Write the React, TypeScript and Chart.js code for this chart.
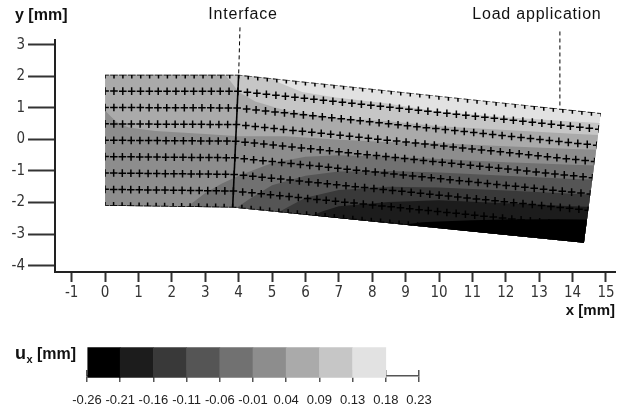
import React, { useEffect, useRef } from 'react';
import { Chart, registerables } from 'chart.js';

Chart.register(...registerables);

// ---------- data (mm) ----------
// beam outline after deformation
const beamTop: [number, number][] = [[0, 2.05], [4.0, 2.05], [14.85, 0.84]];
const beamBottom: [number, number][] = [[0, -2.1], [3.82, -2.16], [14.34, -3.27]];
// interface between the two materials and leader lines of the annotations
const interfaceLine: [number, number][] = [[4.0, 2.05], [3.82, -2.16]];
const interfaceLeader: [number, number][] = [[4.04, 3.55], [4.0, 2.05]];
const loadLeader: [number, number][] = [[13.62, 3.42], [13.62, 0.98]];
// measurement grid: node counts (rows, columns of the left part, columns of the right part)
const gridRows = 9;
const gridColsLeft = 16;
const gridColsRight = 38;

// iso-lines of u_x (boundaries between the legend classes)
const isoM021: [number, number][] = [[-1, -4], [8, -3.2], [8.8, -2.72], [9.5, -2.62], [10, -2.6], [11, -2.56], [12, -2.54], [13.5, -2.53], [15.5, -2.55]];
const isoM016: [number, number][] = [[-1, -4], [5.5, -3], [6.0, -2.5], [6.5, -2.28], [7, -2.12], [8.5, -1.98], [10, -1.93], [12, -2.02], [14, -2.12], [15.5, -2.18]];
const isoM011: [number, number][] = [[-1, -4], [4.5, -3], [5.2, -2.3], [6, -1.85], [7, -1.6], [8.5, -1.5], [10, -1.52], [12, -1.62], [14, -1.72], [15.5, -1.78]];
const isoM006: [number, number][] = [[-1, -3], [3.5, -2.6], [3.9, -2.2], [4.3, -1.9], [5, -1.45], [6, -1.15], [7, -1.02], [8.5, -1.0], [10, -1.05], [12, -1.15], [14, -1.25], [15.5, -1.3]];
const isoM001: [number, number][] = [[-1, -3], [2.2, -2.6], [2.5, -2.1], [3.0, -1.7], [3.5, -1.4], [4.0, -1.15], [5, -0.75], [6, -0.55], [7, -0.5], [8.5, -0.55], [10, -0.62], [12, -0.72], [14, -0.8], [15.5, -0.85]];
const isoP004: [number, number][] = [[-1, 1.0], [0, 0.92], [0.15, 0.75], [0.35, 0.55], [0.7, 0.38], [1.5, 0.27], [3, 0.17], [4, 0.1], [5.4, 0.1], [6.9, 0.0], [8.4, -0.08], [10, -0.12], [12, -0.22], [14, -0.3], [15.5, -0.36]];
const isoP009: [number, number][] = [[-1, 3.5], [3.3, 3.0], [3.55, 2.1], [3.75, 1.85], [4.0, 1.5], [4.5, 1.2], [5.4, 0.92], [6.9, 0.69], [8.4, 0.58], [10, 0.42], [12, 0.3], [14, 0.18], [15.5, 0.1]];
const isoP013: [number, number][] = [[-1, 3.5], [4.5, 3.0], [4.85, 2.2], [5.2, 1.8], [5.9, 1.5], [6.9, 1.33], [8.4, 1.15], [10, 0.88], [12, 0.7], [13.5, 0.6], [15.5, 0.48]];
const isoLines = [isoM021, isoM016, isoM011, isoM006, isoM001, isoP004, isoP009, isoP013];

// legend
const legendTicks = ['-0.26', '-0.21', '-0.16', '-0.11', '-0.06', '-0.01', '0.04', '0.09', '0.13', '0.18', '0.23'];
const legendColors = ['#000000', '#1c1c1c', '#393939', '#555555', '#717171', '#8d8d8d', '#aaaaaa', '#c6c6c6', '#e2e2e2'];

// ---------- helpers ----------
const lerp = (a: number, b: number, t: number) => a + (b - a) * t;
const lerpP = (a: [number, number], b: [number, number], t: number): [number, number] => [lerp(a[0], b[0], t), lerp(a[1], b[1], t)];

function buildGridNodes() {
  const nodes: { x: number; y: number }[] = [];
  for (let r = 0; r < gridRows; r++) {
    const f = r / (gridRows - 1);
    for (let c = 0; c < gridColsLeft; c++) {
      const u = c / (gridColsLeft - 1);
      const p = lerpP(lerpP(beamTop[0], beamTop[1], u), lerpP(beamBottom[0], beamBottom[1], u), f);
      nodes.push({ x: p[0], y: p[1] });
    }
    for (let c = 1; c <= gridColsRight; c++) {
      const v = c / gridColsRight;
      const p = lerpP(lerpP(beamTop[1], beamTop[2], v), lerpP(beamBottom[1], beamBottom[2], v), f);
      nodes.push({ x: p[0], y: p[1] });
    }
  }
  return nodes;
}

const toXY = (pts: [number, number][]) => pts.map(([x, y]) => ({ x, y }));

const SANS = '"Liberation Sans", Arial, Helvetica, sans-serif';
const TICKFONT = '"Liberation Sans Narrow", "DejaVu Sans Condensed", "Liberation Sans", sans-serif';

function traceBeam(ctx: CanvasRenderingContext2D, xs: any, ys: any) {
  const outline = [...beamTop, ...beamBottom.slice().reverse()];
  ctx.beginPath();
  outline.forEach(([x, y], i) => {
    const X = xs.getPixelForValue(x);
    const Y = ys.getPixelForValue(y);
    if (i === 0) ctx.moveTo(X, Y);
    else ctx.lineTo(X, Y);
  });
  ctx.closePath();
}

const beamPlugin = {
  id: 'beamContours',
  beforeDatasetsDraw(chart: any) {
    const { ctx } = chart;
    const xs = chart.scales.x;
    const ys = chart.scales.y;
    ctx.save();
    traceBeam(ctx, xs, ys);
    ctx.clip();
    ctx.fillStyle = legendColors[8];
    ctx.fill();
    ctx.filter = 'blur(0.7px)';
    for (let k = isoLines.length - 1; k >= 0; k--) {
      const line = isoLines[k];
      ctx.beginPath();
      line.forEach(([x, y], i) => {
        const X = xs.getPixelForValue(x);
        const Y = ys.getPixelForValue(y);
        if (i === 0) ctx.moveTo(X, Y);
        else ctx.lineTo(X, Y);
      });
      const last = line[line.length - 1];
      const first = line[0];
      ctx.lineTo(xs.getPixelForValue(last[0]), chart.height + 60);
      ctx.lineTo(xs.getPixelForValue(first[0]), chart.height + 60);
      ctx.closePath();
      ctx.fillStyle = legendColors[k];
      ctx.fill();
    }
    ctx.restore();
  },
  beforeDatasetDraw(chart: any, args: any) {
    if (args.index <= 1) {
      const ctx = chart.ctx;
      ctx.save();
      traceBeam(ctx, chart.scales.x, chart.scales.y);
      ctx.clip();
    }
  },
  afterDatasetDraw(chart: any, args: any) {
    if (args.index <= 1) chart.ctx.restore();
  },
  afterDraw(chart: any) {
    const { ctx, chartArea } = chart;
    const xs = chart.scales.x;
    ctx.save();
    ctx.fillStyle = '#111';
    ctx.textBaseline = 'middle';
    ctx.font = `bold 16px ${SANS}`;
    ctx.textAlign = 'left';
    ctx.fillText('y [mm]', 15, 16);
    ctx.font = `bold 15px ${SANS}`;
    ctx.textAlign = 'right';
    ctx.fillText('x [mm]', chartArea.right, 311);
    ctx.font = `16px ${SANS}`;
    (ctx as any).letterSpacing = '0.8px';
    ctx.textAlign = 'center';
    ctx.fillText('Interface', xs.getPixelForValue(interfaceLeader[0][0]) + 3, 15);
    ctx.fillText('Load application', xs.getPixelForValue(loadLeader[0][0]) - 23, 15);
    ctx.restore();
  },
};

const colorbarPlugin = {
  id: 'colorbarTitle',
  afterDraw(chart: any) {
    const { ctx } = chart;
    ctx.save();
    ctx.fillStyle = '#111';
    ctx.textBaseline = 'alphabetic';
    ctx.textAlign = 'left';
    ctx.font = `bold 18px ${SANS}`;
    ctx.fillText('u', 15, 37);
    ctx.font = `bold 11px ${SANS}`;
    ctx.fillText('x', 26.5, 41);
    ctx.font = `bold 16px ${SANS}`;
    ctx.fillText('[mm]', 37, 37);
    ctx.restore();
  },
};

export default function App() {
  const mainRef = useRef<HTMLCanvasElement>(null);
  const barRef = useRef<HTMLCanvasElement>(null);

  useEffect(() => {
    document.body.style.margin = '0';
    const gridNodes = buildGridNodes();
    const main = new Chart(mainRef.current as HTMLCanvasElement, {
      type: 'scatter',
      data: {
        datasets: [
          {
            label: 'grid',
            data: gridNodes,
            pointStyle: 'cross',
            pointRadius: 3.8,
            pointBorderColor: '#000',
            pointBorderWidth: 1.5,
            showLine: false,
            clip: false,
          } as any,
          {
            label: 'interface',
            data: toXY(interfaceLine),
            showLine: true,
            borderColor: '#000',
            borderWidth: 1.6,
            pointRadius: 0,
            clip: false,
          } as any,
          {
            label: 'interfaceLeader',
            data: toXY(interfaceLeader),
            showLine: true,
            borderColor: '#000',
            borderWidth: 1,
            borderDash: [4, 3],
            pointRadius: 0,
            clip: false,
          } as any,
          {
            label: 'loadLeader',
            data: toXY(loadLeader),
            showLine: true,
            borderColor: '#000',
            borderWidth: 1,
            borderDash: [4, 3],
            pointRadius: 0,
            clip: false,
          } as any,
        ],
      },
      options: {
        animation: false,
        responsive: false,
        maintainAspectRatio: false,
        events: [],
        layout: { padding: { top: 40, right: 14, left: 0, bottom: 0 } },
        plugins: { legend: { display: false }, tooltip: { enabled: false } },
        scales: {
          x: {
            type: 'linear',
            min: -1.5,
            max: 15.27,
            afterFit: (s: any) => { s.height = 50; },
            ticks: { stepSize: 1, includeBounds: false, autoSkip: false, maxRotation: 0, padding: 2, color: '#333', font: { family: TICKFONT, size: 15 } },
            grid: { display: true, drawOnChartArea: false, drawTicks: true, tickLength: 10, tickWidth: 2, tickColor: '#333' },
            border: { display: true, color: '#222', width: 2 },
          },
          y: {
            type: 'linear',
            min: -4.2,
            max: 3.15,
            afterFit: (s: any) => { s.width = 55; },
            ticks: { stepSize: 1, includeBounds: false, autoSkip: false, padding: 3, color: '#333', font: { family: TICKFONT, size: 15 } },
            grid: { display: true, drawOnChartArea: false, drawTicks: true, tickLength: 27, tickWidth: 2, tickColor: '#333' },
            border: { display: true, color: '#222', width: 2 },
          },
        },
      } as any,
      plugins: [beamPlugin as any],
    });

    const bar = new Chart(barRef.current as HTMLCanvasElement, {
      type: 'bar',
      data: {
        datasets: [
          {
            label: 'ux',
            data: legendColors.map((_, i) => ({ x: [i, i + 1], y: 24 })),
            backgroundColor: legendColors,
            borderWidth: 0,
            barThickness: 30,
            clip: false,
          } as any,
        ],
      },
      options: {
        indexAxis: 'y',
        animation: false,
        responsive: false,
        maintainAspectRatio: false,
        events: [],
        layout: { padding: { left: 87, right: 210, top: 48, bottom: 0 } },
        plugins: { legend: { display: false }, tooltip: { enabled: false } },
        scales: {
          x: {
            type: 'linear',
            min: 0,
            max: 10,
            afterFit: (s: any) => { s.height = 34; },
            ticks: {
              stepSize: 1,
              includeBounds: false,
              autoSkip: false,
              maxRotation: 0,
              padding: 11,
              color: '#222',
              font: { family: SANS, size: 13 },
              callback: (v: any) => legendTicks[Math.round(Number(v))] ?? '',
            },
            grid: { display: true, drawOnChartArea: true, drawTicks: true, tickLength: 6, color: '#555', lineWidth: 1.5, tickColor: '#555', tickWidth: 1.5 },
            border: { display: true, color: '#555', width: 1.5 },
          },
          y: { type: 'linear', display: false, min: 0, max: 6 },
        },
      } as any,
      plugins: [colorbarPlugin as any],
    });

    return () => {
      main.destroy();
      bar.destroy();
    };
  }, []);

  return (
    <div style={{ position: 'absolute', left: 0, top: 0, width: 629, height: 410, background: '#fff' }}>
      <canvas ref={mainRef} width={629} height={322} style={{ display: 'block', width: 629, height: 322 }} />
      <canvas ref={barRef} width={629} height={88} style={{ display: 'block', width: 629, height: 88 }} />
    </div>
  );
}
